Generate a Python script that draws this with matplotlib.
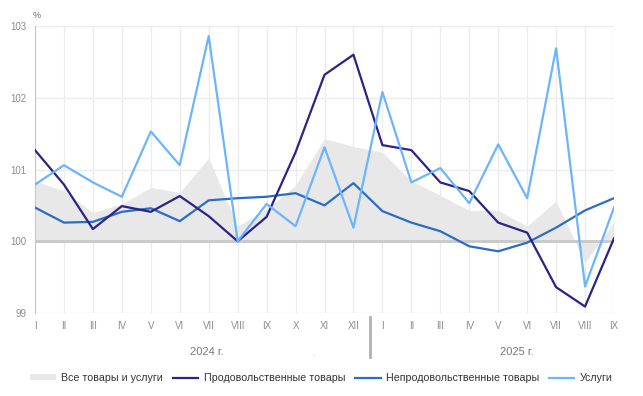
import matplotlib
matplotlib.use("Agg")
import matplotlib.pyplot as plt
from matplotlib.patches import Patch
from matplotlib.lines import Line2D
import numpy as np

plt.rcParams['font.family'] = ['Liberation Sans', 'DejaVu Sans']

months = ["I", "II", "III", "IV", "V", "VI", "VII", "VIII", "IX", "X", "XI", "XII",
          "I", "II", "III", "IV", "V", "VI", "VII", "VIII", "IX"]
years = ["2024 г.", "2025 г."]

all_goods = [100.84, 100.70, 100.40, 100.52, 100.75, 100.68, 101.16, 100.21, 100.45, 100.78,
             101.43, 101.32, 101.24, 100.84, 100.64, 100.43, 100.43, 100.21, 100.56, 99.70, 100.27]
food = [101.27, 100.79, 100.17, 100.49, 100.41, 100.63, 100.35, 100.00, 100.34, 101.24,
        102.32, 102.60, 101.34, 101.27, 100.82, 100.70, 100.26, 100.12, 99.36, 99.09, 100.04]
nonfood = [100.47, 100.26, 100.27, 100.41, 100.46, 100.28, 100.57, 100.60, 100.62, 100.67,
           100.50, 100.81, 100.42, 100.26, 100.14, 99.93, 99.86, 99.98, 100.19, 100.43, 100.60]
services = [100.79, 101.06, 100.82, 100.62, 101.53, 101.06, 102.86, 100.00, 100.52, 100.21,
            101.31, 100.19, 102.08, 100.82, 101.02, 100.53, 101.35, 100.60, 102.69, 99.37, 100.47]

labels = ["Все товары и услуги", "Продовольственные товары",
          "Непродовольственные товары", "Услуги"]

c_all = "#e8e8e8"
c_food = "#2b2385"
c_nonfood = "#2a6cc6"
c_serv = "#6cb4ff"

W, H = 643, 396
fig = plt.figure(figsize=(W / 100, H / 100), dpi=100)
L, R, T, B = 35, 614, 26, 313
ax = fig.add_axes([L / W, 1 - B / H, (R - L) / W, (B - T) / H])

x = np.arange(len(months))
ax.fill_between(x, 100, all_goods, color=c_all, lw=0, zorder=1)
ax.axhline(100, color="#c8c8c8", lw=2, zorder=2)
ax.plot(x, nonfood, color=c_nonfood, lw=1.6, zorder=3)
ax.plot(x, food, color=c_food, lw=1.6, zorder=4)
ax.plot(x, services, color=c_serv, lw=1.6, zorder=5)

ax.set_xlim(0, len(months) - 1)
ax.set_ylim(99, 103)
ax.set_yticks([99, 100, 101, 102, 103])
ax.set_xticks(x)
ax.set_xticklabels(months)
ax.grid(True, color="#ececec", lw=1, zorder=0)
ax.set_axisbelow(True)
for s in ["top", "right", "bottom"]:
    ax.spines[s].set_visible(False)
ax.spines["left"].set_color("#c8c8c8")
ax.tick_params(axis="both", length=0, colors="#8c8c8c", labelsize=7)
ax.tick_params(axis="x", pad=6)
ax.tick_params(axis="y", pad=6)

fig.text(37 / W, 1 - 15 / H, "%", fontsize=6.5, color="#666666", ha="center", va="center")

# year labels and separator
fig.text(207 / W, 1 - 352 / H, years[0], fontsize=8, color="#777777", ha="center", va="center")
fig.text(517 / W, 1 - 352 / H, years[1], fontsize=8, color="#777777", ha="center", va="center")
fig.add_artist(Line2D([370 / W, 370 / W], [1 - 317 / H, 1 - 357 / H], color="#b0b0b0", lw=2))
fig.text(313 / W, 1 - 354 / H, ".", fontsize=6, color="#999999", ha="center", va="center")

handles = [Patch(facecolor=c_all, edgecolor="none"),
           Line2D([], [], color=c_food, lw=1.6),
           Line2D([], [], color=c_nonfood, lw=1.6),
           Line2D([], [], color=c_serv, lw=1.6)]
fig.legend(handles, labels, loc="center", bbox_to_anchor=(0.5, 1 - 378 / H), ncol=4,
           frameon=False, fontsize=7.7, handlelength=2.4, handleheight=0.5,
           columnspacing=0.9, handletextpad=0.5, labelcolor="#333333")

fig.savefig("out.png", dpi=100)
